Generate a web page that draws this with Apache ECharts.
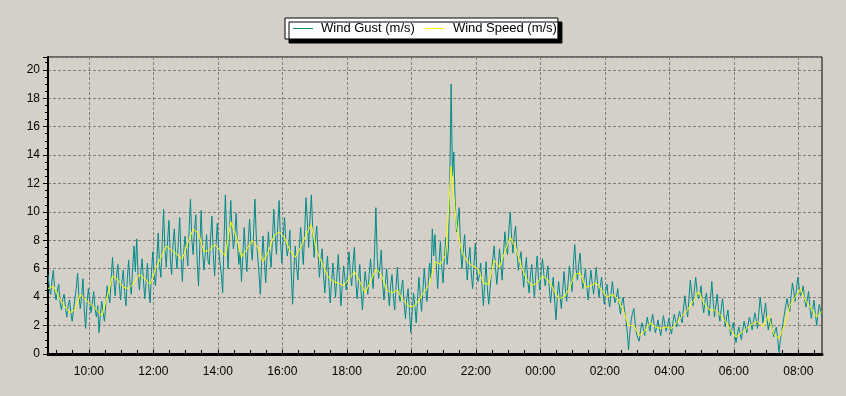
<!DOCTYPE html>
<html>
<head>
<meta charset="utf-8">
<script src="https://cdn.jsdelivr.net/npm/echarts@6/dist/echarts.min.js"></script>
<style>
html,body{margin:0;padding:0;background:#d4d0c8;}
#chart{width:846px;height:396px;}
</style>
</head>
<body>
<div id="chart"></div>
<script>
// Time axis in minutes since 00:00 of the first day
const startMinute = 524;   // 08:44
const endMinute = 1964;    // 08:44 next day
const gustStep = 2.5;      // minutes between gust samples
const speedStep = 10;      // minutes between speed samples

const seriesNames = ['Wind Gust (m/s)', 'Wind Speed (m/s)'];

const gustValues = [
  5.6,4.6,4.2,5.2,5.9,4.4,3.8,4.5,4.9,3.6,3.1,3.9,4.2,3.3,2.6,3.4,3.8,2.9,2.3,3.1,3.9,4.6,5.7,4.1,
  3.2,4.0,5.3,3.1,1.8,3.5,4.6,3.8,2.9,3.6,4.4,3.2,2.6,3.4,1.5,2.8,3.7,2.9,2.3,3.5,4.8,4.1,3.6,5.2,
  6.8,5.2,4.1,5.5,6.3,4.9,3.8,5.1,5.9,4.4,3.4,5.3,6.6,5.0,4.2,6.1,7.6,5.8,8.1,5.6,4.5,5.7,6.7,5.2,
  3.9,5.1,6.4,4.7,3.6,5.8,7.2,5.5,4.8,6.6,8.5,6.3,5.4,7.8,10.2,7.4,6.1,8.0,9.4,6.8,5.6,7.7,8.8,7.1,
  6.0,7.9,9.6,6.9,5.1,7.2,8.3,7.4,6.2,8.7,10.9,8.1,7.0,8.6,9.8,6.5,4.8,7.7,10.1,7.3,5.9,7.0,8.4,6.6,
  6.3,8.1,9.7,7.0,5.5,7.6,9.2,7.3,6.4,5.6,4.3,8.0,11.2,8.2,6.0,8.4,10.8,8.6,7.4,8.3,9.9,7.8,6.3,7.2,
  5.1,7.0,8.9,7.1,5.8,7.9,9.5,7.7,6.6,8.5,10.9,8.3,6.9,5.7,4.2,6.4,8.3,6.6,5.0,6.9,8.6,7.2,6.1,8.0,
  10.2,8.4,7.0,9.1,10.8,8.0,6.4,8.2,9.6,7.9,6.9,7.5,8.7,5.8,3.5,5.9,7.6,6.1,5.2,7.4,8.9,7.6,6.3,8.6,
  11.0,9.3,7.5,9.6,11.2,8.8,6.8,8.1,9.0,7.0,5.4,6.6,7.4,5.6,4.3,5.8,6.9,5.1,3.6,5.0,6.4,5.2,4.0,5.5,
  7.0,5.1,3.4,4.9,6.2,5.3,4.5,5.9,7.2,5.6,4.8,6.4,7.5,5.2,3.9,5.0,6.3,4.4,3.1,4.6,5.8,5.0,4.2,5.6,
  6.7,5.5,4.6,7.1,10.3,6.8,5.3,6.2,7.3,5.0,3.8,4.9,6.0,4.6,3.4,4.8,5.6,4.0,3.1,4.7,6.1,4.5,3.7,4.6,
  5.2,3.6,2.5,3.9,4.6,3.0,1.5,2.9,4.3,3.4,2.2,3.8,5.4,4.1,3.0,4.5,6.0,4.7,3.7,5.1,6.4,5.3,8.8,6.9,
  8.4,6.2,4.6,6.5,7.9,6.1,5.0,6.8,8.2,6.3,7.4,12.0,19.0,12.5,14.2,10.8,8.6,9.4,10.3,7.5,6.0,7.2,8.4,6.7,
  5.2,6.6,7.5,5.7,4.6,6.2,7.8,6.0,5.1,5.5,6.4,4.8,3.4,4.9,6.5,4.5,3.5,4.6,5.8,6.7,7.6,6.1,4.9,6.0,
  7.4,6.3,5.2,7.1,8.6,7.5,7.0,8.8,10.0,8.2,7.1,8.4,9.0,7.2,5.9,6.6,7.2,5.8,4.7,5.9,6.8,5.2,4.3,5.5,
  6.3,5.0,4.0,5.6,6.9,5.4,4.5,5.8,6.7,5.6,4.8,5.5,6.2,4.7,3.6,4.6,5.4,3.8,2.4,4.0,5.1,4.1,3.2,4.5,
  5.8,4.6,3.7,5.0,6.2,5.4,4.4,6.3,7.7,6.0,5.2,6.4,7.1,5.5,4.6,5.3,6.0,4.7,3.8,4.9,5.9,5.0,4.2,5.1,
  6.1,4.9,4.0,4.8,5.4,4.3,3.5,4.4,4.9,3.9,3.3,4.2,5.1,4.2,3.6,4.0,4.6,3.5,2.8,3.6,4.0,3.1,2.5,1.6,
  0.3,1.5,2.4,2.9,3.2,2.1,1.4,1.1,0.9,1.7,2.2,1.8,1.3,2.0,2.6,2.0,1.6,2.3,2.8,2.1,1.5,1.9,2.4,1.8,
  1.3,2.0,2.7,2.1,1.6,2.0,2.5,1.9,1.4,2.2,2.8,2.4,1.9,2.6,3.0,2.5,2.2,3.3,4.1,3.2,2.6,3.9,5.2,4.3,
  3.4,4.5,5.4,4.4,3.9,4.2,4.8,3.6,2.9,3.8,4.3,3.3,2.7,3.9,5.1,3.7,2.6,3.4,4.2,3.0,2.3,3.2,3.9,2.8,
  1.9,2.6,3.1,2.0,1.3,1.8,2.2,1.4,0.8,1.4,1.9,1.5,1.0,1.7,2.3,1.9,1.5,2.1,2.6,2.2,1.7,2.3,2.9,2.4,
  1.8,2.9,4.0,3.1,2.2,2.9,3.6,2.5,1.7,2.2,2.5,1.8,1.2,1.6,1.9,1.1,0.1,1.0,1.6,2.2,2.8,3.4,3.9,3.3,
  3.0,4.1,5.0,4.4,3.7,4.6,5.4,4.7,4.1,4.3,4.8,3.9,3.3,3.8,4.4,3.3,2.5,3.1,3.8,2.9,2.0,2.8,3.5,3.0,2.6
];

const speedValues = [
  4.6,4.8,4.0,3.4,2.9,3.1,
  4.2,3.8,3.5,3.1,2.7,4.0,
  5.5,5.2,4.7,4.6,5.0,5.6,
  5.3,4.9,6.0,6.8,7.6,7.3,
  7.0,6.7,7.8,8.8,8.5,7.2,
  7.3,7.7,7.3,6.9,9.3,8.3,
  6.8,7.4,8.0,7.5,6.5,7.2,
  8.3,8.6,8.2,7.3,6.8,7.5,
  8.4,9.1,7.2,6.4,5.5,5.1,
  5.0,4.8,5.3,5.8,5.1,4.3,
  5.1,6.0,5.6,4.5,4.3,4.5,
  3.8,3.4,3.3,3.8,4.4,4.9,
  6.5,6.3,7.0,13.2,9.0,7.2,
  6.5,6.2,6.0,5.0,4.9,6.6,
  6.1,7.2,8.2,7.5,6.2,5.3,
  4.8,5.0,5.5,5.2,4.6,3.9,
  4.0,4.6,5.6,5.7,4.7,4.8,
  5.0,4.5,4.0,4.2,3.9,3.1,
  2.0,2.0,1.3,1.6,2.2,1.9,
  1.8,1.9,1.8,2.2,2.7,3.1,
  3.7,4.4,3.6,3.1,3.1,2.8,
  2.3,1.7,1.2,1.5,1.8,2.1,
  2.3,1.9,2.7,1.4,1.1,2.0,
  3.4,4.0,4.6,3.7,3.2,2.6,3.0
];

// Tick label positions (minutes) and minor ticks
const xLabelMinutes = [600,720,840,960,1080,1200,1320,1440,1560,1680,1800,1920];
const xTickMinutes = [540,570,600,630,660,690,720,750,780,810,840,870,900,930,960,990,1020,1050,1080,1110,1140,1170,1200,1230,1260,1290,1320,1350,1380,1410,1440,1470,1500,1530,1560,1590,1620,1650,1680,1710,1740,1770,1800,1830,1860,1890,1920,1950];
const yMin = 0, yMax = 20.9, yInterval = 2;

const gustData = gustValues.map((v, i) => [startMinute + i * gustStep, v]);
const speedData = speedValues.map((v, i) => [startMinute + i * speedStep, v]);

function fmtTime(m) {
  const mm = ((m % 1440) + 1440) % 1440;
  const h = Math.floor(mm / 60), mi = mm % 60;
  return (h < 10 ? '0' : '') + h + ':' + (mi < 10 ? '0' : '') + mi;
}

const FONT = 'Liberation Sans, Arial, sans-serif';
const chart = echarts.init(document.getElementById('chart'), null, {renderer: 'canvas'});
chart.setOption({
  animation: false,
  backgroundColor: '#d4d0c8',
  textStyle: {fontFamily: FONT},
  legend: {
    left: 285, top: 18,
    padding: [4, 1, 4, 8],
    itemGap: 10,
    itemWidth: 20, itemHeight: 1,
    icon: 'rect',
    backgroundColor: '#ffffff',
    borderColor: '#000000', borderWidth: 1,
    shadowColor: '#000000', shadowBlur: 0, shadowOffsetX: 4, shadowOffsetY: 4,
    textStyle: {color: '#000', fontSize: 13, fontFamily: FONT, padding: [0,0,0,3]},
    data: seriesNames
  },
  grid: {
    left: 48, right: 24, top: 57, bottom: 42,
    show: true, borderColor: '#000', borderWidth: 1, backgroundColor: 'transparent'
  },
  xAxis: [{
    type: 'value', min: startMinute, max: endMinute, position: 'bottom',
    axisLine: {show: true, onZero: false, lineStyle: {color: '#000', width: 3}},
    axisTick: {show: true, inside: true, length: 4, customValues: xTickMinutes, lineStyle: {color: '#000', width: 1}},
    axisLabel: {show: true, customValues: xLabelMinutes, formatter: fmtTime, color: '#000', fontSize: 12, margin: 12, fontFamily: FONT},
    splitLine: {show: false}
  }, {
    type: 'value', min: startMinute, max: endMinute, position: 'top',
    axisLine: {show: false},
    axisTick: {show: false, customValues: xLabelMinutes},
    axisLabel: {show: false},
    splitLine: {show: true, lineStyle: {color: '#808080', width: 1, type: [3, 2]}}
  }],
  yAxis: {
    type: 'value', min: yMin, max: yMax, interval: yInterval,
    axisLine: {show: true, onZero: false, lineStyle: {color: '#000', width: 2}},
    axisTick: {show: true, length: 5, lineStyle: {color: '#000'}},
    minorTick: {show: true, splitNumber: 4, length: 3, lineStyle: {color: '#000'}},
    axisLabel: {color: '#000', fontSize: 12, margin: 8, showMaxLabel: false, fontFamily: FONT},
    splitLine: {show: true, lineStyle: {color: '#808080', width: 1, type: [3, 2]}}
  },
  series: [{
    name: seriesNames[0], type: 'line', xAxisIndex: 0, showSymbol: false, symbol: 'none',
    data: gustData, lineStyle: {color: '#008a8a', width: 1}, itemStyle: {color: '#008a8a'}, z: 2
  }, {
    name: seriesNames[1], type: 'line', xAxisIndex: 0, showSymbol: false, symbol: 'none',
    data: speedData, lineStyle: {color: '#ffff00', width: 1}, itemStyle: {color: '#ffff00'}, z: 3
  }]
});
</script>
</body>
</html>
